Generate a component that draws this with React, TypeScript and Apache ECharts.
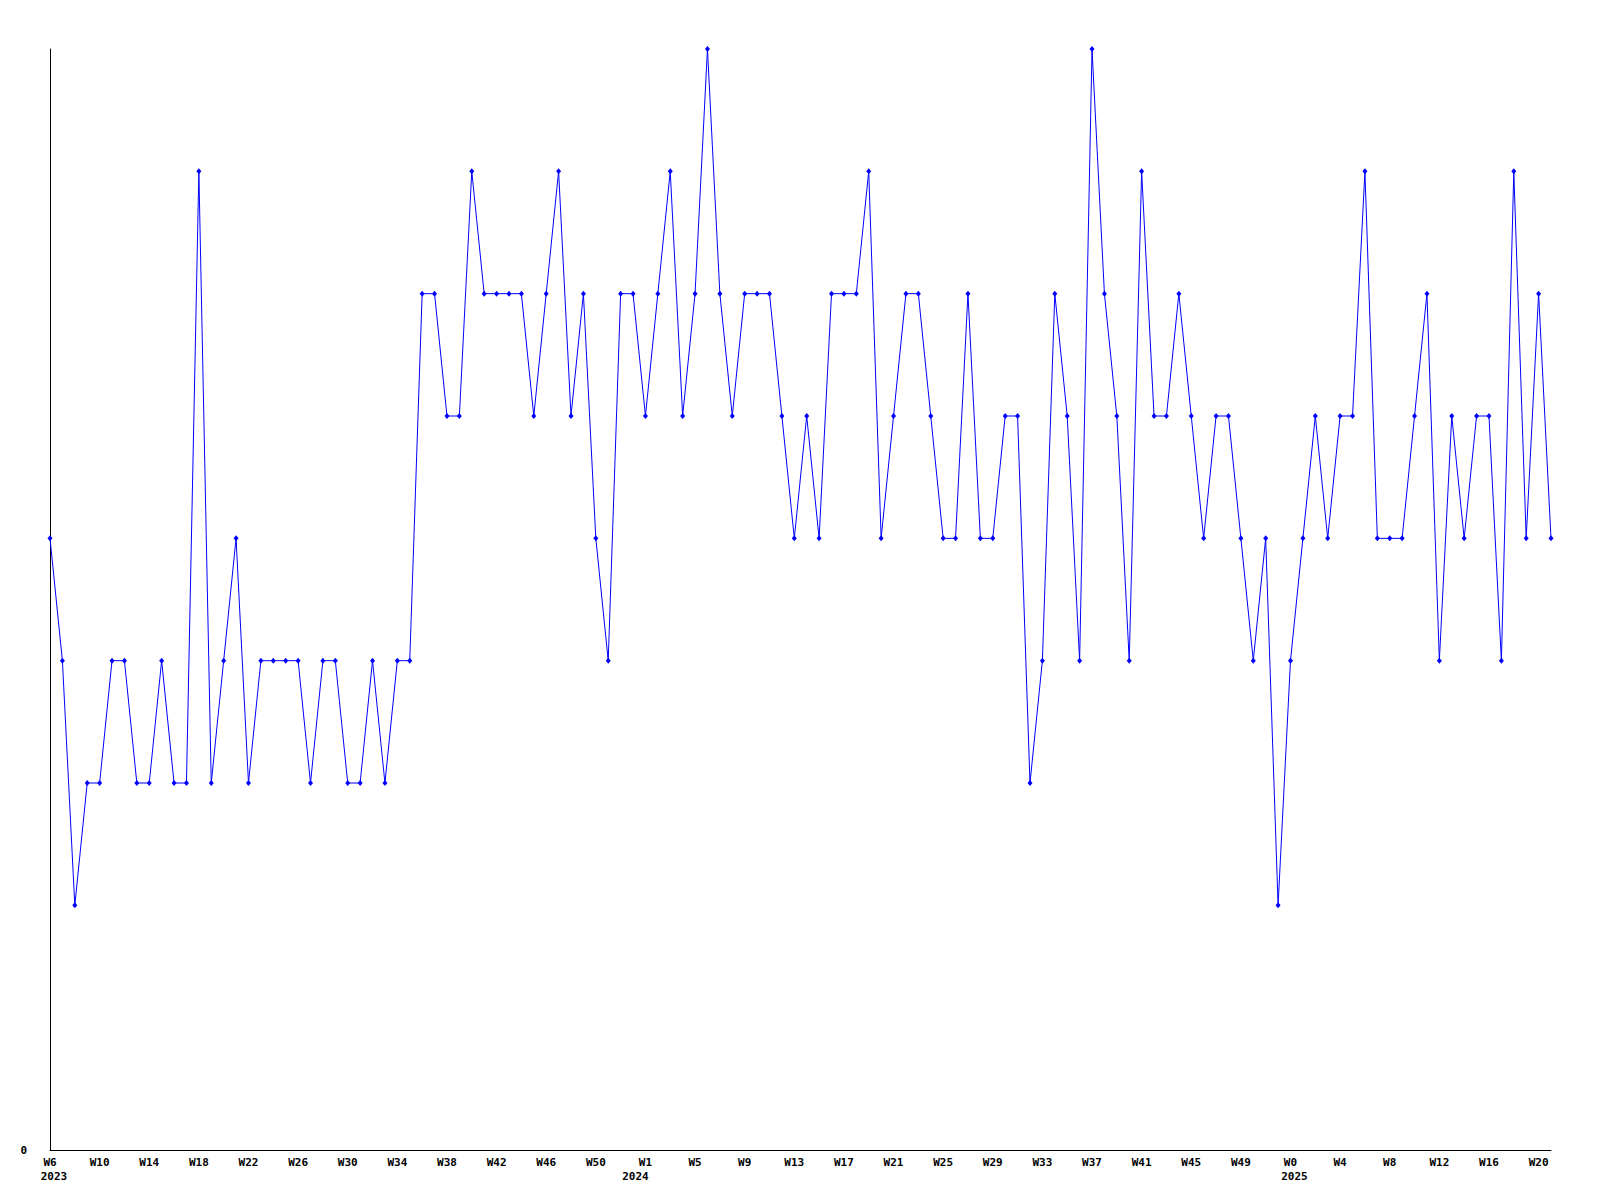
import React, { useEffect, useRef } from "react";
import * as echarts from "echarts";

const weeks2023 = ["W6","W7","W8","W9","W10","W11","W12","W13","W14","W15","W16","W17","W18","W19","W20","W21","W22","W23","W24","W25","W26","W27","W28","W29","W30","W31","W32","W33","W34","W35","W36","W37","W38","W39","W40","W41","W42","W43","W44","W45","W46","W47","W48","W49","W50","W51","W52","W53"];
const weeks2024 = ["W1","W2","W3","W4","W5","W6","W7","W8","W9","W10","W11","W12","W13","W14","W15","W16","W17","W18","W19","W20","W21","W22","W23","W24","W25","W26","W27","W28","W29","W30","W31","W32","W33","W34","W35","W36","W37","W38","W39","W40","W41","W42","W43","W44","W45","W46","W47","W48","W49","W50","W51","W52"];
const weeks2025 = ["W0","W1","W2","W3","W4","W5","W6","W7","W8","W9","W10","W11","W12","W13","W14","W15","W16","W17","W18","W19","W20","W21"];

const categories = [...weeks2023, ...weeks2024, ...weeks2025];

// first category index of each year -> year label
const yearLabels: Record<number, string> = { 0: "2023", 48: "2024", 100: "2025" };

const values = [
  5,4,2,3,3,4,4,3,3,4,3,3,8,3,4,5,3,4,4,4,4,
  3,4,4,3,3,4,3,4,4,7,7,6,6,8,7,7,7,7,6,7,
  8,6,7,5,4,7,7,6,7,8,6,7,9,7,6,7,7,7,6,5,
  6,5,7,7,7,8,5,6,7,7,6,5,5,7,5,5,6,6,3,4,
  7,6,4,9,7,6,4,8,6,6,7,6,5,6,6,5,4,5,2,4,
  5,6,5,6,6,8,5,5,5,6,7,4,6,5,6,6,4,8,5,7,5,
];

const FONT = "'DejaVu Sans Mono', monospace";

export default function App() {
  const ref = useRef<HTMLDivElement>(null);
  useEffect(() => {
    if (!ref.current) return;
    const chart = echarts.init(ref.current, undefined, { renderer: "svg" });
    chart.setOption({
      animation: false,
      backgroundColor: "#ffffff",
      grid: { left: 50, right: 49, top: 49, bottom: 50, containLabel: false },
      xAxis: {
        type: "category",
        data: categories,
        boundaryGap: false,
        axisLine: { show: true, lineStyle: { color: "#000000", width: 1 } },
        axisTick: { show: false },
        splitLine: { show: false },
        axisLabel: {
          interval: 3,
          margin: 5,
          color: "#000000",
          fontFamily: FONT,
          fontWeight: "bold",
          fontSize: 11,
          lineHeight: 14,
          formatter: (value: string, index: number) => {
            const y = yearLabels[index];
            if (y === undefined) return `{w|${value}}`;
            if (index === 48) return `{w|${value}}\n{yl|${y}}`;
            return `{w|${value}}\n{yr|${y}}`;
          },
          rich: {
            w: { fontFamily: FONT, fontWeight: "bold", fontSize: 11, lineHeight: 14, color: "#000000" },
            yr: { fontFamily: FONT, fontWeight: "bold", fontSize: 11, lineHeight: 14, color: "#000000", padding: [0, 0, 0, 8] },
            yl: { fontFamily: FONT, fontWeight: "bold", fontSize: 11, lineHeight: 14, color: "#000000", padding: [0, 20, 0, 0] },
          },
        },
      },
      yAxis: {
        type: "value",
        min: 0,
        max: 9,
        interval: 9,
        axisLine: { show: true, lineStyle: { color: "#000000", width: 1 } },
        axisTick: { show: false },
        splitLine: { show: false },
        axisLabel: {
          margin: 23,
          color: "#000000",
          fontFamily: FONT,
          fontWeight: "bold",
          fontSize: 11,
          formatter: (v: number) => (v === 0 ? "0" : ""),
        },
      },
      series: [
        {
          type: "line",
          data: values,
          symbol: "diamond",
          symbolSize: [5, 6],
          showAllSymbol: true,
          lineStyle: { color: "#0000ff", width: 1 },
          itemStyle: { color: "#0000ff" },
        },
      ],
    });
    return () => chart.dispose();
  }, []);
  return (
    <div
      ref={ref}
      style={{ position: "absolute", left: 0, top: 0, width: 1600, height: 1200, background: "#ffffff" }}
    />
  );
}
